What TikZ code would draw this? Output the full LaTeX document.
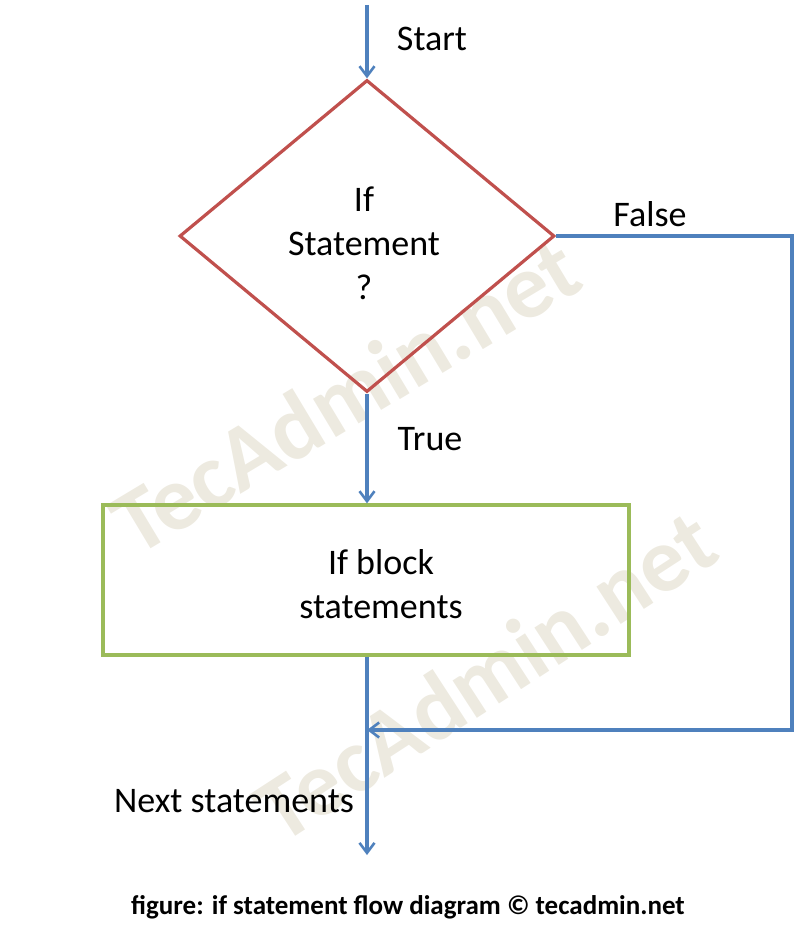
\documentclass[tikz,border=0pt]{standalone}
\usepackage{fontspec}
\setmainfont{Carlito}
\usetikzlibrary{shapes.geometric,arrows.meta}
\definecolor{myblue}{HTML}{4F81BD}
\definecolor{myred}{HTML}{C0504D}
\definecolor{mygreen}{HTML}{9BBB59}
\definecolor{wm}{HTML}{EDEAE0}
\begin{document}
\begin{tikzpicture}[x=1pt,y=-1pt,
  flow/.style={draw=myblue,line width=3.4pt,-{Straight Barb[length=10pt,width=15pt,line width=2.6pt]}},
  lbl/.style={font=\fontsize{36}{40}\selectfont,inner sep=0pt},
  wmk/.style={font=\bfseries\fontsize{92}{98}\selectfont,text=wm,inner sep=0pt}]
\useasboundingbox (0,0) rectangle (805,931);
\node[wmk,rotate=31] (w1) at (345,395) {TecAdmin.net};
\node[wmk,rotate=33] (w2) at (485,675) {TecAdmin.net};
\coordinate (top) at (367,5);
\node[diamond,draw=myred,line width=3.2pt,minimum width=375pt,minimum height=312pt,aspect=1.2,inner sep=0pt] (d) at (367,236) {};
\node[lbl,align=center,font=\fontsize{36}{44}\selectfont] (dt) at (364,243) {If\\Statement\\?};
\node[draw=mygreen,line width=3.2pt,minimum width=526pt,minimum height=150pt,inner sep=0pt] (b) at (366,580) {};
\node[lbl,align=center,font=\fontsize{36}{44}\selectfont] (bt) at (381,584) {If block\\statements};
\coordinate (c1) at (792,236);
\coordinate (c2) at (792,730);
\coordinate (j) at (367,730);
\coordinate (end) at (367,855);
\draw[flow] (top) -- (d.north);
\draw[flow] (d.south) -- (b.north -| d.south);
\draw[flow] (d.east) -- (c1) -- (c2) -- (j);
\draw[flow] (b.south -| d.south) -- (end);
\node[lbl] (s) at (432,39) {Start};
\node[lbl] (f) at (650,214) {False};
\node[lbl] (t) at (430,439) {True};
\node[lbl] (n) at (234,801) {Next statements};
\node[font=\bfseries\fontsize{27}{30}\selectfont,inner sep=0pt] (cap) at (408,907) {figure: if statement flow diagram © tecadmin.net};
\end{tikzpicture}
\end{document}
